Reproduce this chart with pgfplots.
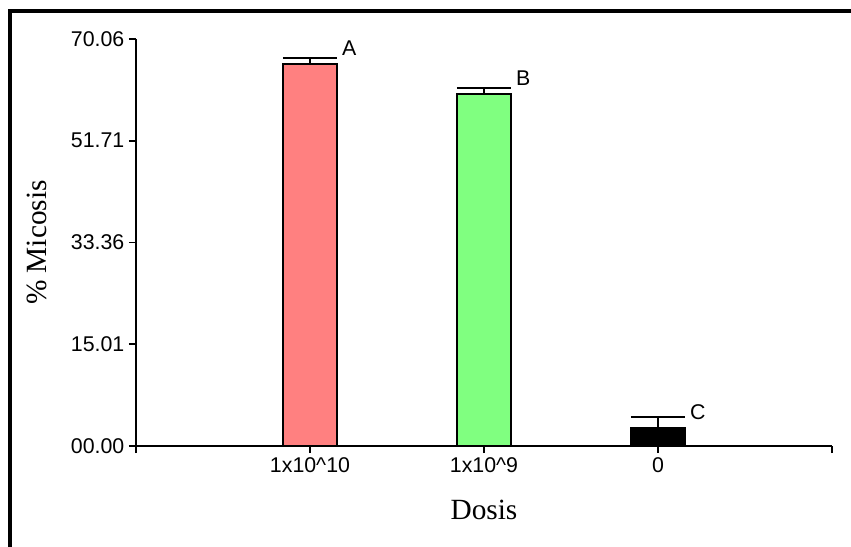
\documentclass[border=0pt]{standalone}
\usepackage{fontspec}
\setmainfont{Liberation Sans}
\newfontfamily\serif{Liberation Serif}
\usepackage{pgfplots}
\pgfplotsset{compat=1.18}
\definecolor{barred}{HTML}{FF8080}
\definecolor{bargreen}{HTML}{80FF80}

\begin{document}
\begin{tikzpicture}
\useasboundingbox (-102pt,-75.75pt) rectangle (536.25pt,334.5pt);
% outer frame (top and left edges)
\draw[line width=3pt] (-94.5pt,-80pt) -- (-94.5pt,326.25pt) -- (540pt,326.25pt);
\begin{axis}[
  at={(0,0)}, anchor=south west,
  scale only axis, width=522pt, height=305.25pt,
  xmin=0, xmax=4, ymin=0, ymax=73.40,
  axis x line*=bottom, axis y line*=left,
  axis line style={line width=1.3pt, black},
  xtick={0,1,2,3,4},
  xticklabels={,1x10\textasciicircum10,1x10\textasciicircum9,0,},
  ytick={0,18.35,36.70,55.05,73.40},
  yticklabels={00.00,15.01,33.36,51.71,70.06},
  tick align=outside, major tick length=5.25pt,
  tick style={line width=1.3pt, black},
  ticklabel style={font=\fontsize{16}{19}\selectfont},
  xlabel={Dosis}, ylabel={\% Micosis},
  label style={font=\serif\fontsize{22}{26}\selectfont},
  x label style={at={(axis description cs:0.5,-0.157)}, anchor=center},
  y label style={at={(axis description cs:-0.1422,0.5)}, anchor=center},
  clip=false,
  /pgfplots/error bars/error mark options={rotate=90, black, line width=1.6pt, mark size=20.25pt},
]
\addplot[ybar, bar width=40.5pt, bar shift=0pt, fill=barred, draw=black, line width=1.3pt,
  error bars/.cd, y dir=plus, y explicit,
  error bar style={line width=1.3pt, black}]
  coordinates {(1,68.94) +- (0,1.09)};
\addplot[ybar, bar width=40.5pt, bar shift=0pt, fill=bargreen, draw=black, line width=1.3pt,
  error bars/.cd, y dir=plus, y explicit,
  error bar style={line width=1.3pt, black}]
  coordinates {(2,63.53) +- (0,1.08)};
\addplot[ybar, bar width=40.5pt, bar shift=0pt, fill=black, draw=black, line width=1.3pt,
  error bars/.cd, y dir=plus, y explicit,
  error bar style={line width=1.3pt, black}]
  coordinates {(3,3.30) +- (0,1.98)};
% group letters
\node[anchor=west, inner sep=0pt, font=\fontsize{16}{19}\selectfont, xshift=3.75pt, yshift=7.3pt] at (axis cs:1.155,70.03) {A};
\node[anchor=west, inner sep=0pt, font=\fontsize{16}{19}\selectfont, xshift=3.75pt, yshift=7.5pt] at (axis cs:2.155,64.61) {B};
\node[anchor=west, inner sep=0pt, font=\fontsize{16}{19}\selectfont, xshift=3.75pt, yshift=3.5pt] at (axis cs:3.155,5.28) {C};
\end{axis}
\end{tikzpicture}
\end{document}
